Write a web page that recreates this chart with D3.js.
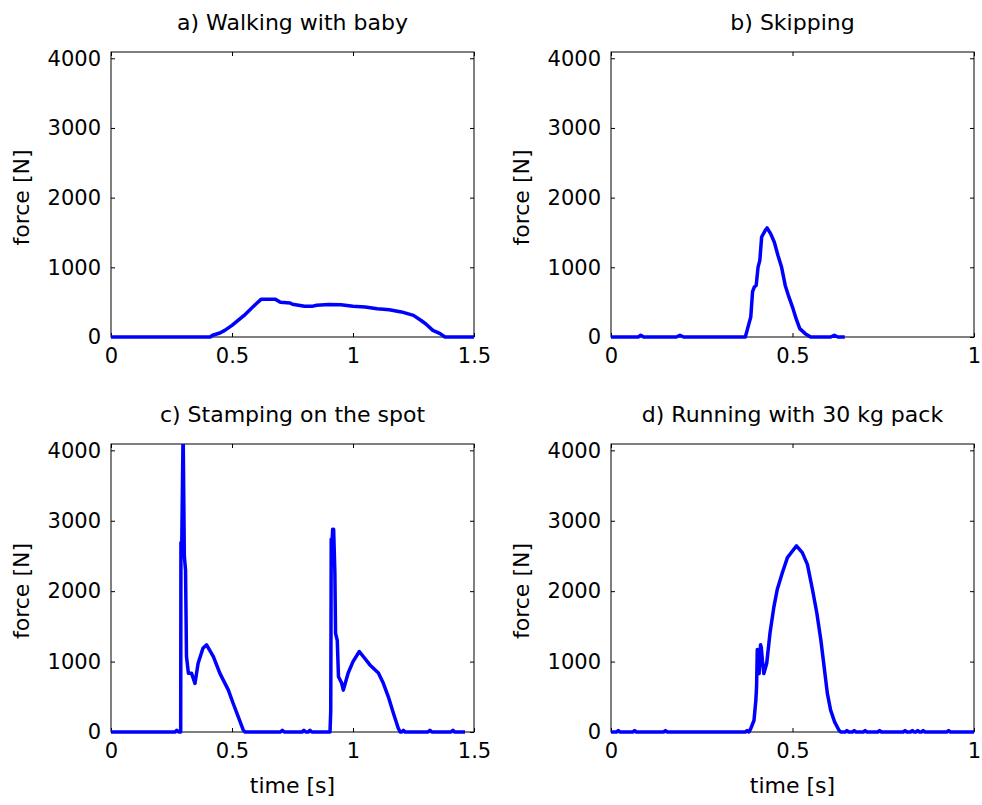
<!DOCTYPE html>
<html>
<head>
<meta charset="utf-8">
<script src="https://cdn.jsdelivr.net/npm/d3@7"></script>
<style>
  body { margin: 0; background: #fff; }
  svg { display: block; font-family: "DejaVu Sans", sans-serif; }
  .tick line { stroke: #000; }
  .tick text { fill: #000; font-size: 21px; }
</style>
</head>
<body>
<svg id="chart" width="982" height="805"></svg>
<script>
// data
var titles = ["a) Walking with baby", "b) Skipping", "c) Stamping on the spot", "d) Running with 30 kg pack"];
var xMax = [1.5, 1, 1.5, 1];
var xTicksWide = [0, 0.5, 1, 1.5];
var xTicksNarrow = [0, 0.5, 1];
var yTicks = [0, 1000, 2000, 3000, 4000];

var walkT = [0, 0.41, 0.42, 0.45, 0.47, 0.5, 0.55, 0.6, 0.62, 0.68, 0.7, 0.74, 0.75, 0.8, 0.83, 0.85, 0.9, 0.95, 1.0, 1.05, 1.1, 1.15, 1.2, 1.25, 1.28, 1.3, 1.33, 1.36, 1.38, 1.5];
var walkF = [0, 0, 25, 57, 95, 167, 310, 478, 540, 540, 500, 488, 470, 440, 440, 455, 468, 463, 440, 430, 406, 392, 360, 310, 240, 190, 95, 48, 0, 0];

var skipT = [0, 0.075, 0.082, 0.09, 0.18, 0.19, 0.2, 0.37, 0.375, 0.385, 0.39, 0.395, 0.4, 0.405, 0.41, 0.415, 0.425, 0.43, 0.44, 0.45, 0.46, 0.47, 0.48, 0.49, 0.5, 0.51, 0.52, 0.535, 0.55, 0.605, 0.615, 0.625, 0.644];
var skipF = [0, 0, 25, 0, 0, 25, 0, 0, 95, 287, 650, 720, 740, 1000, 1100, 1435, 1530, 1565, 1480, 1360, 1170, 1000, 740, 575, 430, 263, 120, 48, 0, 0, 25, 0, 0];

var stampT = [0, 0.265, 0.272, 0.28, 0.288, 0.289, 0.292, 0.298, 0.303, 0.308, 0.312, 0.32, 0.333, 0.347, 0.36, 0.38, 0.395, 0.423, 0.45, 0.485, 0.505, 0.526, 0.547, 0.554,
  0.70, 0.708, 0.716, 0.79, 0.797, 0.805, 0.815, 0.822, 0.83, 0.905, 0.908, 0.909, 0.910, 0.913, 0.916, 0.920, 0.925, 0.928, 0.935, 0.94, 0.953, 0.96, 0.98, 1.0, 1.026, 1.07, 1.105, 1.125, 1.146, 1.167, 1.187, 1.195,
  1.202, 1.208, 1.215, 1.31, 1.318, 1.326, 1.405, 1.413, 1.42, 1.463];
var stampF = [0, 0, 25, 0, 0, 2690, 2550, 4300, 2500, 2300, 1070, 833, 833, 690, 976, 1190, 1238, 1071, 833, 595, 405, 214, 24, 0,
  0, 25, 0, 0, 25, 0, 0, 25, 0, 0, 300, 1400, 2740, 2650, 2880, 2880, 2270, 1400, 1300, 786, 695, 595, 838, 1000, 1143, 953, 838, 695, 500, 267, 53, 0,
  0, 25, 0, 0, 25, 0, 0, 25, 0, 0];

var runT = [0, 0.015, 0.02, 0.025, 0.06, 0.065, 0.07, 0.145, 0.15, 0.155, 0.37, 0.375, 0.38, 0.385, 0.394, 0.399, 0.401, 0.403, 0.406, 0.408, 0.412, 0.414, 0.417, 0.421, 0.429, 0.438, 0.449, 0.458, 0.472, 0.486, 0.5, 0.511, 0.527, 0.541, 0.555, 0.567, 0.578, 0.587, 0.596, 0.605, 0.616, 0.628, 0.633,
  0.645, 0.65, 0.655, 0.665, 0.67, 0.675, 0.695, 0.7, 0.705, 0.735, 0.74, 0.745, 0.805, 0.81, 0.815, 0.825, 0.83, 0.835, 0.84, 0.845, 0.85, 0.855, 0.86, 0.865, 0.925, 0.93, 0.935, 1.0];
var runF = [0, 0, 20, 0, 0, 20, 0, 0, 20, 0, 0, 20, 0, 48, 167, 450, 640, 1170, 1100, 830, 1240, 1200, 1020, 830, 976, 1405, 1785, 2024, 2262, 2476, 2570, 2643, 2548, 2381, 2024, 1690, 1310, 929, 548, 310, 143, 24, 0,
  0, 20, 0, 0, 20, 0, 0, 20, 0, 0, 20, 0, 0, 20, 0, 0, 20, 0, 0, 20, 0, 0, 20, 0, 0, 20, 0, 0];

var seriesT = [walkT, skipT, stampT, runT];
var seriesF = [walkF, skipF, stampF, runF];

// panel boxes in pixels
var colX = [[111, 474], [611, 974]];
var rowY = [[52, 337], [444, 732]];
var yTop = 4090;

var svg = d3.select("#chart");

titles.forEach(function(title, i){
    var col = i % 2, row = Math.floor(i / 2);
    var x0 = colX[col][0], x1 = colX[col][1];
    var y0 = rowY[row][0], y1 = rowY[row][1];

    var x = d3.scaleLinear().domain([0, xMax[i]]).range([x0, x1]);
    var y = d3.scaleLinear().domain([0, yTop]).range([y1, y0]);
    var xt = xMax[i] > 1 ? xTicksWide : xTicksNarrow;

    var g = svg.append("g").attr("class", "panel");

    // box
    g.append("rect")
        .attr("x", x0).attr("y", y0)
        .attr("width", x1 - x0).attr("height", y1 - y0)
        .attr("fill", "none").attr("stroke", "#000").attr("stroke-width", 1);

    // axes, ticks pointing inward
    var bottom = g.append("g").attr("transform", "translate(0," + y1 + ")")
        .call(d3.axisBottom(x).tickValues(xt).tickSize(-4).tickPadding(11).tickFormat(d3.format("")));
    var top = g.append("g").attr("transform", "translate(0," + y0 + ")")
        .call(d3.axisTop(x).tickValues(xt).tickSize(-4).tickFormat(""));
    var left = g.append("g").attr("transform", "translate(" + x0 + ",0)")
        .call(d3.axisLeft(y).tickValues(yTicks).tickSize(-4).tickPadding(10).tickFormat(d3.format("d")));
    var right = g.append("g").attr("transform", "translate(" + x1 + ",0)")
        .call(d3.axisRight(y).tickValues(yTicks).tickSize(-4).tickFormat(""));
    [bottom, top, left, right].forEach(function(a){
        a.select(".domain").remove();
        a.attr("font-family", null).attr("font-size", null);
    });

    // clip so the spikes stop at the top edge
    var clipId = "clip" + i;
    svg.append("clipPath").attr("id", clipId)
        .append("rect")
        .attr("x", x0 - 2).attr("y", y0)
        .attr("width", x1 - x0 + 4).attr("height", y1 - y0 + 3);

    var pts = seriesT[i].map(function(t, k){ return [t, seriesF[i][k]]; });
    var line = d3.line()
        .x(function(d){ return x(d[0]); })
        .y(function(d){ return y(d[1]); });

    g.append("path")
        .datum(pts)
        .attr("clip-path", "url(#" + clipId + ")")
        .attr("d", line)
        .attr("fill", "none")
        .attr("stroke", "#0000ff")
        .attr("stroke-width", 3.5)
        .attr("stroke-linejoin", "round");

    // title
    g.append("text")
        .attr("x", (x0 + x1) / 2)
        .attr("y", row === 0 ? 30 : 422)
        .attr("text-anchor", "middle")
        .attr("font-size", 22)
        .text(title);

    // y label
    g.append("text")
        .attr("transform", "translate(" + (x0 - 82) + "," + ((y0 + y1) / 2 + 3) + ") rotate(-90)")
        .attr("text-anchor", "middle")
        .attr("font-size", 22)
        .text("force [N]");

    // x label only on the bottom row
    if (row === 1) {
        g.append("text")
            .attr("x", (x0 + x1) / 2)
            .attr("y", 793)
            .attr("text-anchor", "middle")
            .attr("font-size", 22)
            .text("time [s]");
    }
});
</script>
</body>
</html>
